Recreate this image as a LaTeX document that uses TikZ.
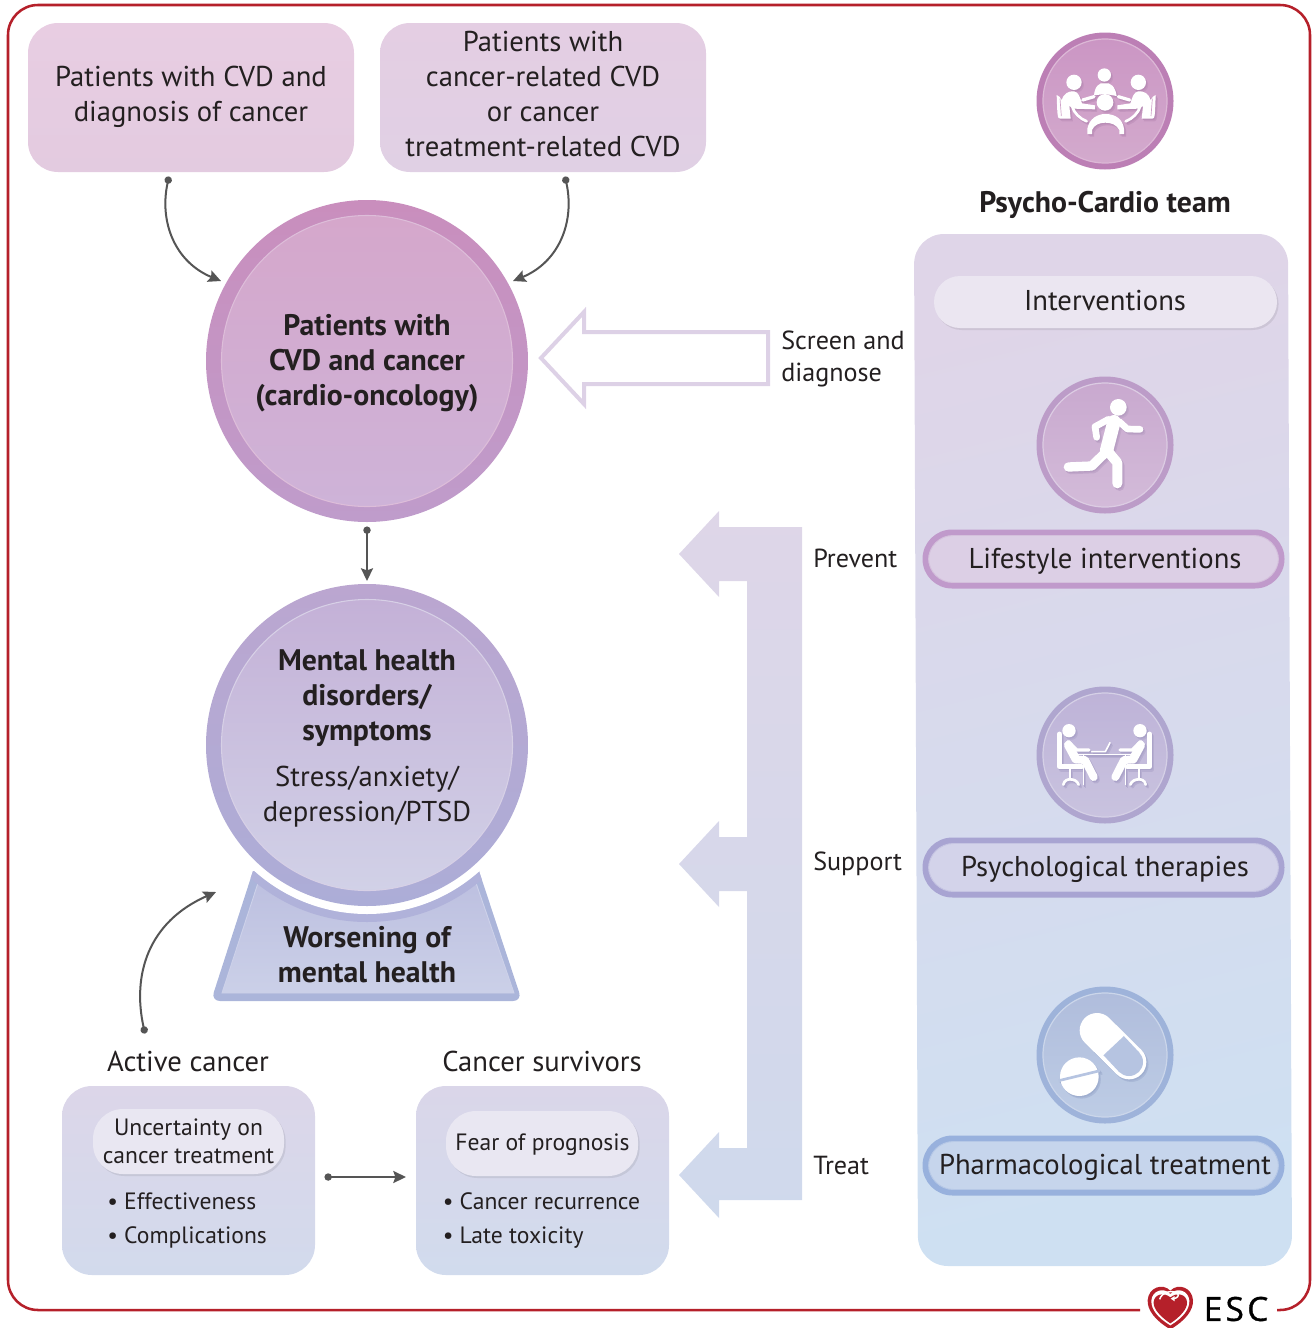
\documentclass[tikz,border=0pt]{standalone}
\usepackage{fontspec}
\setmainfont{PT Sans}
\newfontfamily\escfont[LetterSpace=10,FakeBold=1]{Open Sans}
\usetikzlibrary{arrows.meta,shadows}
\definecolor{ink}{HTML}{231F20}
\definecolor{esc}{HTML}{B5202A}
\definecolor{arrowgray}{HTML}{555555}
\newcommand{\dc}[1]{\definecolor{c#1}{HTML}{#1}}
\dc{E8CDE2}\dc{E3CBE0}\dc{E4CEE3}\dc{E0D0E4}\dc{C98EBD}\dc{BF9CCB}\dc{DDBDD9}\dc{D5A7CB}\dc{CEB3D8}\dc{ABB5DA}\dc{BDC0E0}\dc{CBD0E8}\dc{CDD1E9}\dc{B0B2DA}\dc{BBA6D0}\dc{ACADD7}\dc{D7D0E6}\dc{C4B1D7}\dc{D1D1E7}\dc{DDD1E6}\dc{DED6E8}\dc{CFD9EC}\dc{DFD5E8}\dc{D8D9EC}\dc{CEE0F2}\dc{EBE6F1}\dc{BC7FB5}\dc{CB96C4}\dc{D3AACD}\dc{DCB8D6}\dc{B98CB6}\dc{CFA0C8}\dc{BC9CC8}\dc{C9A9CF}\dc{D3BBD9}\dc{DCCCE3}\dc{B79DC2}\dc{CDB1D4}\dc{AFA6CF}\dc{BEB3D8}\dc{C9C3DF}\dc{D5D0E6}\dc{ABA3C9}\dc{C3BBDB}\dc{9EB3DA}\dc{B0BDDC}\dc{BDCCE5}\dc{CBD6EA}\dc{9FAECF}\dc{B6C4E1}\dc{C09ACB}\dc{DCCFE5}\dc{D4C0DC}\dc{A8A4D2}\dc{D3D3EA}\dc{C5C4E2}\dc{98B1DD}\dc{C6D5EC}\dc{B6C8E6}\dc{DCD6E9}\dc{D2DAEC}\dc{DAD6E9}\dc{D1DBED}\dc{E9E7F2}
\colorlet{icmain}{white}
\colorlet{icinner}{white}
\def\u{0.75pt}
\newcommand{\fsL}{\fontsize{21.5}{26.25}\selectfont}
\newcommand{\fsB}{\fontsize{22.3}{26.25}\selectfont\bfseries}
\newcommand{\fsM}{\fontsize{19.6}{23.5}\selectfont}
\newcommand{\fsS}{\fontsize{17.7}{21}\selectfont}
\tikzset{
  txt/.style={text=ink,inner sep=0pt,align=center,font=\fsL},
  lbl/.style={text=ink,inner sep=0pt,align=left,font=\fsM},
  sbox/.style={rectangle,rounded corners=30*\u,inner sep=0pt},
  softshadow/.style={drop shadow={shadow xshift=1.2pt,shadow yshift=-1.5pt,opacity=.08,fill=black}},
  conn/.style={draw=arrowgray,line width=1.5pt,{Circle[length=5.5pt]}-{Stealth[length=9.5pt,width=9pt,inset=1.5pt]}},
  iconstroke/.style={draw=icmain,line cap=round,line join=round},
}
% ---- icons, drawn in the coordinates of a 3x crop
\newcommand{\IconTeamSide}{%
  \fill[icmain] (222,187) circle (23);
  \fill[icmain] (170,225) -- (178,230) -- (185,240) .. controls (190,222) and (205,212) .. (222,214) .. controls (236,216) and (240,232) .. (246,250) -- (285,256) -- (285,268) -- (222,266) -- (208,258) -- (212,296) -- (180,296) .. controls (172,296) and (172,285) .. (170,225) -- cycle;
  \draw[draw=icinner,line width=.5pt] (180,236) -- (184,288);
  \draw[iconstroke,line width=2.4pt] (248,240) -- (282,230);
  \draw[iconstroke,line width=2pt] (216,258) .. controls (222,280) and (240,296) .. (260,304);
}
\newcommand{\IconTeam}{%
  \fill[icmain] (313,165) circle (20);
  \fill[icmain] (282,226) .. controls (284,200) and (298,186) .. (313,190) .. controls (332,186) and (346,200) .. (350,228) -- (316,222) -- cycle;
  \begin{scope}[shift={(637,0)},xscale=-1]\IconTeamSide\end{scope}
  \IconTeamSide
  \fill[icmain] (315,247) circle (25);
  \fill[icmain] (262,342) -- (262,326) .. controls (268,296) and (292,282) .. (316,282) .. controls (345,282) and (368,296) .. (372,326) -- (372,342) -- (358,342) -- (358,330) .. controls (350,315) and (335,308) .. (316,308) .. controls (298,308) and (282,315) .. (276,330) -- (276,342) -- cycle;
}
\newcommand{\IconRun}{%
  \fill[icmain] (355,142) circle (25);
  \draw[iconstroke,line width=5pt] (325,178) -- (285,200) -- (290,232);
  \draw[iconstroke,line width=10pt] (342,185) -- (320,270);
  \draw[iconstroke,line width=5pt] (358,185) -- (382,207) -- (420,208);
  \draw[iconstroke,line width=7pt] (322,272) -- (275,318) -- (205,321);
  \draw[iconstroke,line width=7.5pt] (322,272) -- (352,308) -- (352,370);
}
\newcommand{\IconTherapySide}{%
  \fill[icmain] (207,182) circle (20);
  \draw[iconstroke,line width=3.6pt] (178,192) -- (178,290) -- (245,290);
  \draw[iconstroke,line width=1.6pt] (210,295) -- (210,328);
  \draw[iconstroke,line width=2pt] (190,344) .. controls (192,330) and (205,328) .. (210,328) .. controls (220,328) and (232,332) .. (236,344);
  \draw[iconstroke,line width=6.5pt] (205,225) -- (228,268);
  \draw[iconstroke,line width=2.5pt] (205,215) -- (230,240) -- (267,240);
  \draw[iconstroke,line width=6pt] (228,268) -- (255,270) -- (281,321);
  \draw[draw=icmain,line width=.9pt] (250,255) -- (250,346);
}
\newcommand{\IconTherapy}{%
  \IconTherapySide
  \begin{scope}[shift={(627,0)},xscale=-1]\IconTherapySide\end{scope}
  \draw[draw=icmain,line width=1.1pt] (235,254) -- (395,254);
  \draw[iconstroke,line width=1.2pt] (275,245) -- (316,245) -- (330,218);
}
\newcommand{\IconPill}{%
  \draw[draw=icmain,line width=26pt,line cap=round] (291,181) -- (387,276);
  \draw[draw=icinner,line width=21pt] (341,227) -- (387,276);
  \fill[icinner] (387,276) circle (42);
  \fill[icmain] (238,320) circle (58);
  \draw[draw=icinner,line width=2pt] (176,332) -- (300,302);
}
\newcommand{\ShadowIcon}[4]{% icon, origin y, shadow colour, inner colour
  \begin{scope}[shift={(1000+2.2,#2+2.6)},x=.25pt,y=-.25pt]
    \colorlet{icmain}{#3!55!#4}\colorlet{icinner}{#3!55!#4}#1
  \end{scope}
  \begin{scope}[shift={(1000+1.1,#2+1.3)},x=.25pt,y=-.25pt]
    \colorlet{icmain}{#3}\colorlet{icinner}{#3}#1
  \end{scope}
  \begin{scope}[shift={(1000,#2)},x=.25pt,y=-.25pt]
    \colorlet{icmain}{white}\colorlet{icinner}{#4}#1
  \end{scope}
}
\newcommand{\IconDisc}[6]{% name, y, border, fill top, fill bottom, rim
  \node[circle,inner sep=0pt,minimum size=137*\u,fill=#3] (#1) at (1105,#2) {};
  \node[circle,inner sep=0pt,minimum size=124*\u,draw=#6,line width=.9pt,top color=#4,bottom color=#5] (#1i) at (1105,#2) {};
}
\newcommand{\RingPill}[7]{% name, y, height, border, fill top, rim, text
  \node[sbox,rounded corners=#3/2*\u,minimum width=362*\u,minimum height=#3*\u,fill=#4] (#1) at (1103.5,#2) {};
  \node[sbox,rounded corners=#3/2*\u-5*\u,minimum width=350*\u,minimum height=#3*\u-12*\u,draw=#6,line width=.7pt,fill=#5] (#1i) at (1103.5,#2) {};
  \node[txt] (#1t) at (1105,#2+2) {#7};
}
\begin{document}
\begin{tikzpicture}[x=0.75pt,y=-0.75pt]
\useasboundingbox (0,0) rectangle (1312,1328);
% frame
\draw[esc,line width=1.9pt,rounded corners=30*\u] (1140,1310) -- (8,1310) -- (8,5) -- (1310,5) -- (1310,1310) -- (1277,1310);
% ESC logo
\begin{scope}[shift={(1112,1260)},x=.25pt,y=-.25pt]
  \fill[esc] (175,208) .. controls (130,182) and (105,150) .. (107,120) .. controls (110,82) and (152,68) .. (175,92) .. controls (198,68) and (240,82) .. (243,120) .. controls (245,150) and (220,182) .. (175,208) -- cycle;
  \fill[white] (175,196) .. controls (138,174) and (117,148) .. (118,122) .. controls (120,92) and (155,80) .. (175,102) .. controls (195,80) and (230,92) .. (232,122) .. controls (233,148) and (212,174) .. (175,196) -- cycle;
  \fill[esc] (175,190) .. controls (145,170) and (123,146) .. (125,126) .. controls (127,102) and (156,96) .. (175,112) .. controls (194,96) and (223,102) .. (225,126) .. controls (227,146) and (205,170) .. (175,190) -- cycle;
  \draw[white,line width=1.1pt] (143,118) .. controls (148,98) and (178,88) .. (196,100) .. controls (202,106) and (198,114) .. (184,116);
  \fill[white] (188,108) -- (176,116) -- (188,124) -- cycle;
\end{scope}
\node[inner sep=0pt,text=black,font=\escfont\fontsize{25}{25}\selectfont] (esclogo) at (1236,1309) {ESC};
% top boxes
\node[sbox,minimum width=326*\u,minimum height=149*\u,top color=cE8CDE2,bottom color=cE3CBE0] (box1) at (191,97.5) {};
\node[txt] (box1t) at (191,96.5) {Patients with CVD and\\diagnosis of cancer};
\node[sbox,minimum width=326*\u,minimum height=149*\u,top color=cE4CEE3,bottom color=cE0D0E4] (box2) at (543,97.5) {};
\node[txt] (box2t) at (543,94.5) {Patients with\\cancer-related CVD\\or cancer\\treatment-related CVD};
% circle 1
\node[circle,inner sep=0pt,minimum size=322*\u,top color=cC98EBD,bottom color=cBF9CCB] (c1) at (367,361) {};
\node[circle,inner sep=0pt,minimum size=291*\u,draw=cDDBDD9,line width=.8pt,top color=cD5A7CB,bottom color=cCEB3D8] (c1i) at (367,361) {};
\node[txt,font=\fsB] (c1t) at (367,363.5) {Patients with\\CVD and cancer\\(cardio-oncology)};
% base
\begin{scope}
  \clip (253,871) [rounded corners=9*\u] -- (211,1001) -- (522,1001) [sharp corners] -- (479,871) -- cycle;
  \fill[cABB5DA] (200,860) rectangle (530,1010);
  \shade[top color=cBDC0E0,bottom color=cCBD0E8,draw=cCDD1E9,line width=.7pt] (258,883) -- (222,993) -- (514,993) -- (476,883) -- cycle;
  \fill[cB0B2DA] (367,745) circle (177);
  \fill[white] (367,745) circle (169);
\end{scope}
% circle 2
\node[circle,inner sep=0pt,minimum size=322*\u,top color=cBBA6D0,bottom color=cACADD7] (c2) at (367,745) {};
\node[circle,inner sep=0pt,minimum size=291*\u,draw=cD7D0E6,line width=.8pt,top color=cC4B1D7,bottom color=cD1D1E7] (c2i) at (367,745) {};
\node[txt] (c2t) at (367,738.5) {\fsB Mental health\\\fsB disorders/\\\fsB symptoms\\[8.7pt]\fsL\mdseries Stress/anxiety/\\depression/PTSD};
\node[txt,font=\fsB] (worse) at (367,955) {Worsening of\\mental health};
% arrows from boxes
\coordinate (s1) at (169,176.5);
\coordinate (e1) at (221,281);
\coordinate (s2) at (565,176.5);
\coordinate (e2) at (513,281);
\coordinate (s3) at (367,526.5);
\coordinate (e3) at (367,581);
\coordinate (s4) at (145,1033.5);
\coordinate (e4) at (216,892);
\coordinate (s5) at (324.5,1177);
\coordinate (e5) at (406,1177);
\draw[conn] (s1) .. controls (159,222) and (175,262) .. (e1);
\draw[conn] (s2) .. controls (575,222) and (559,262) .. (e2);
\draw[conn] (s3) -- (e3);
\draw[conn] (s4) .. controls (132,975) and (148,922) .. (e4);
\draw[conn] (s5) -- (e5);
% hollow arrow
\draw[cDDD1E6,line width=3pt,fill=white,line join=miter] (768,332) -- (584,332) -- (584,312) -- (541,358) -- (584,404) -- (584,384) -- (768,384) -- cycle;
\node[lbl,anchor=west] (screen) at (781,359) {Screen and\\diagnose};
% bracket arrow
\shade[top color=cDED6E8,bottom color=cCFD9EC] (802,527) -- (719,527) -- (719,511) -- (679,554) -- (719,597) -- (719,581) -- (747,581) -- (747,837) -- (719,837) -- (719,821) -- (679,864) -- (719,907) -- (719,891) -- (747,891) -- (747,1148) -- (719,1148) -- (719,1132) -- (679,1175) -- (719,1218) -- (719,1200) -- (802,1200) -- cycle;
\node[lbl,anchor=west] (prevent) at (813,558) {Prevent};
\node[lbl,anchor=west] (support) at (813,864) {Support};
\node[lbl,anchor=west] (treat) at (813,1165) {Treat};
% right panel
\shade[rounded corners=30*\u,top color=cDFD5E8,middle color=cD8D9EC,bottom color=cCEE0F2,shading angle=14] (914,234) -- (1288,234) -- (1292,1266) -- (918,1266) -- cycle;
\node[txt,font=\fsB] (team) at (1105,204.5) {Psycho-Cardio team};
\node[sbox,rounded corners=26*\u,minimum width=343*\u,minimum height=52*\u,fill=cEBE6F1,softshadow] (interv) at (1105.5,302) {};
\node[txt] (intervt) at (1105,301) {Interventions};
\IconDisc{d1}{101}{cBC7FB5}{cCB96C4}{cD3AACD}{cDCB8D6}
\ShadowIcon{\IconTeam}{20}{cB98CB6}{cCFA0C8}
\IconDisc{d2}{445}{cBC9CC8}{cC9A9CF}{cD3BBD9}{cDCCCE3}
\ShadowIcon{\IconRun}{360}{cB79DC2}{cCDB1D4}
\IconDisc{d3}{755}{cAFA6CF}{cBEB3D8}{cC9C3DF}{cD5D0E6}
\ShadowIcon{\IconTherapy}{670}{cABA3C9}{cC3BBDB}
\IconDisc{d4}{1055}{c9EB3DA}{cB0BDDC}{cBDCCE5}{cCBD6EA}
\ShadowIcon{\IconPill}{970}{c9FAECF}{cB6C4E1}
\RingPill{p1}{559}{59}{cC09ACB}{cDCCFE5}{cD4C0DC}{Lifestyle interventions}
\RingPill{p2}{867.5}{60}{cA8A4D2}{cD3D3EA}{cC5C4E2}{Psychological therapies}
\RingPill{p3}{1165.5}{60}{c98B1DD}{cC6D5EC}{cB6C8E6}{Pharmacological treatment}
% bottom boxes
\node[txt] (active) at (188,1061) {Active cancer};
\node[txt] (surv) at (542,1061) {Cancer survivors};
\node[sbox,minimum width=253*\u,minimum height=189*\u,top color=cDCD6E9,bottom color=cD2DAEC] (ba) at (188.5,1180.5) {};
\node[sbox,minimum width=253*\u,minimum height=189*\u,top color=cDAD6E9,bottom color=cD1DBED] (bs) at (542.5,1180.5) {};
\node[sbox,minimum width=191*\u,minimum height=65*\u,fill=cE9E7F2,softshadow,txt,font=\fsS] (pa) at (188.5,1141.5) {Uncertainty on\\cancer treatment};
\node[sbox,minimum width=192*\u,minimum height=65*\u,fill=cE9E7F2,softshadow] (ps) at (542,1143.5) {};
\node[txt,font=\fsS] (pst) at (542.5,1144.5) {Fear of prognosis};
\node[lbl,anchor=west,font=\fsS] (la) at (107,1220.5) {• Effectiveness\\[5pt]• Complications};
\node[lbl,anchor=west,font=\fsS] (ls) at (442.5,1220.5) {• Cancer recurrence\\[5pt]• Late toxicity};
\end{tikzpicture}
\end{document}
